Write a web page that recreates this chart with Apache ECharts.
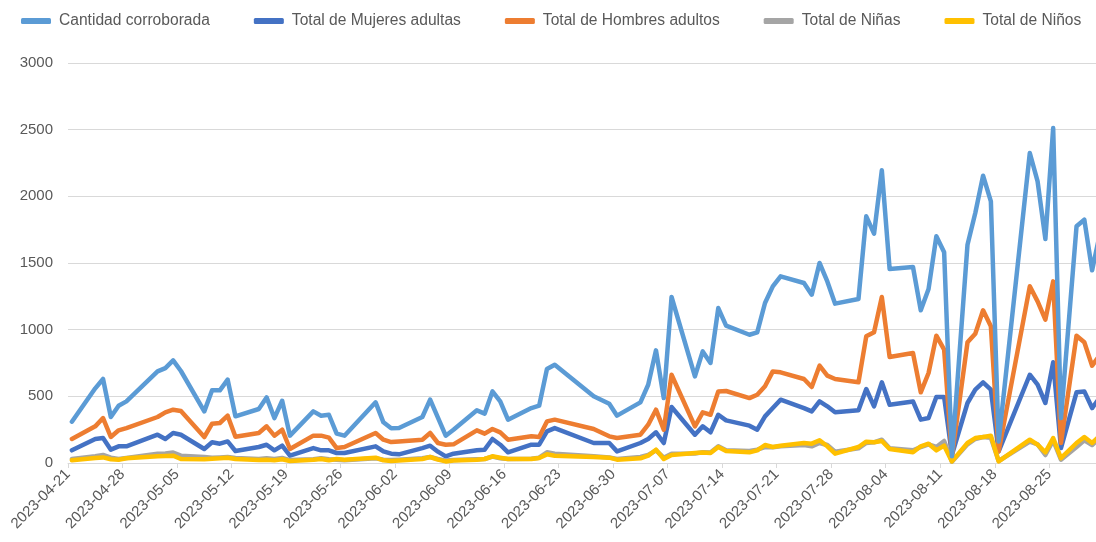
<!DOCTYPE html>
<html>
<head>
<meta charset="utf-8">
<script src="https://cdn.jsdelivr.net/npm/echarts@6/dist/echarts.min.js"></script>
<style>
	html, body { margin: 0; padding: 0; background: #fff; }
	#chart { width: 1096px; height: 542px; }
</style>
</head>
<body>
<div id="chart"></div>
<script>
	'use strict';

	var dates = ['2023-04-21', '2023-04-24', '2023-04-25', '2023-04-26', '2023-04-27', '2023-04-28',
		'2023-05-02', '2023-05-03', '2023-05-04', '2023-05-05', '2023-05-08', '2023-05-09', '2023-05-10',
		'2023-05-11', '2023-05-12', '2023-05-15', '2023-05-16', '2023-05-17', '2023-05-18', '2023-05-19',
		'2023-05-22', '2023-05-23', '2023-05-24', '2023-05-25', '2023-05-26', '2023-05-30', '2023-05-31',
		'2023-06-01', '2023-06-02', '2023-06-05', '2023-06-06', '2023-06-07', '2023-06-08', '2023-06-09',
		'2023-06-12', '2023-06-13', '2023-06-14', '2023-06-15', '2023-06-16', '2023-06-19', '2023-06-20',
		'2023-06-21', '2023-06-22', '2023-06-27', '2023-06-29', '2023-06-30', '2023-07-03', '2023-07-04',
		'2023-07-05', '2023-07-06', '2023-07-07', '2023-07-10', '2023-07-11', '2023-07-12', '2023-07-13',
		'2023-07-14', '2023-07-17', '2023-07-18', '2023-07-19', '2023-07-20', '2023-07-21', '2023-07-24',
		'2023-07-25', '2023-07-26', '2023-07-27', '2023-07-28', '2023-07-31', '2023-08-01', '2023-08-02',
		'2023-08-03', '2023-08-04', '2023-08-07', '2023-08-08', '2023-08-09', '2023-08-10', '2023-08-11',
		'2023-08-12', '2023-08-14', '2023-08-15', '2023-08-16', '2023-08-17', '2023-08-18', '2023-08-22',
		'2023-08-23', '2023-08-24', '2023-08-25', '2023-08-26', '2023-08-28', '2023-08-29', '2023-08-30',
		'2023-08-31'];

	var corroborada = [310, 560, 630, 345, 430, 462, 687, 712, 770, 690, 387, 545, 545, 625, 350,
		405, 492, 337, 467, 205, 387, 355, 362, 220, 205, 455, 305, 260, 262, 345, 475, 340, 205, 250,
		395, 370, 537, 462, 325, 412, 430, 705, 737, 500, 445, 355, 455, 587, 845, 487, 1245, 650, 837,
		750, 1162, 1030, 962, 980, 1200, 1325, 1400, 1350, 1262, 1500, 1362, 1195, 1230, 1850, 1720,
		2195, 1455, 1470, 1145, 1305, 1700, 1580, 50, 1637, 1875, 2155, 1962, 162, 2325, 2112, 1680,
		2512, 337, 1775, 1825, 1445, 1720];

	var mujeres = [95, 180, 187, 100, 125, 125, 212, 180, 225, 212, 105, 155, 145, 162, 90,
		120, 137, 95, 130, 55, 112, 95, 95, 75, 75, 125, 87, 70, 65, 112, 130, 85, 50, 70,
		95, 100, 180, 137, 80, 137, 137, 237, 262, 150, 150, 87, 150, 180, 230, 150, 420, 212, 275,
		230, 362, 320, 280, 250, 350, 412, 475, 412, 387, 462, 425, 380, 395, 555, 425,
		605, 437, 462, 325, 337, 495, 495, 62, 450, 550, 605, 550, 87, 662, 587, 450,
		755, 112, 530, 537, 412, 490];

	var hombres = [180, 275, 337, 195, 245, 262, 345, 380, 400, 390, 195, 295, 300, 355, 197,
		225, 275, 205, 250, 105, 205, 205, 190, 112, 120, 225, 175, 157, 162, 175, 225, 150, 137, 140,
		245, 220, 255, 230, 175, 200, 195, 312, 325, 255, 200, 187, 212, 287, 400, 250, 662, 275, 380,
		362, 537, 540, 487, 512, 575, 687, 680, 630, 570, 730, 655, 630, 605, 950, 980,
		1245, 795, 825, 530, 675, 955, 850, 50, 905, 970, 1145, 1025, 87, 1325, 1212, 1075,
		1362, 150, 955, 905, 730, 810];

	var ninas = [30, 50, 60, 40, 30, 38, 70, 72, 78, 55, 45, 40, 42, 45, 38,
		30, 35, 30, 38, 22, 28, 35, 28, 25, 20, 35, 25, 22, 25, 35, 45, 30, 18, 22,
		28, 30, 48, 35, 30, 32, 40, 80, 70, 50, 42, 30, 45, 60, 95, 40, 70, 72, 80,
		78, 125, 95, 90, 100, 120, 118, 125, 135, 125, 150, 135, 85, 110, 150, 155,
		175, 110, 95, 120, 140, 120, 165, 10, 140, 180, 195, 190, 15, 160, 140, 60,
		170, 25, 120, 170, 135, 190];

	var ninos = [20, 38, 42, 28, 25, 35, 50, 52, 55, 30, 28, 32, 35, 40, 30,
		22, 25, 20, 28, 15, 25, 30, 20, 30, 25, 40, 20, 15, 18, 30, 45, 25, 12, 18,
		25, 30, 50, 40, 30, 30, 38, 65, 55, 45, 40, 25, 35, 55, 100, 30, 60, 75, 78,
		75, 120, 90, 80, 95, 135, 120, 130, 150, 145, 170, 125, 70, 120, 160, 155,
		165, 105, 80, 125, 145, 95, 130, 12, 150, 187, 195, 205, 12, 175, 137, 80,
		187, 37, 150, 195, 150, 205];

	var yTicks = [0, 500, 1000, 1500, 2000, 2500, 3000];

	var names = ['Cantidad corroborada', 'Total de Mujeres adultas', 'Total de Hombres adultos', 'Total de Niñas', 'Total de Niños'];
	var colors = ['#5B9BD5', '#4472C4', '#ED7D31', '#A5A5A5', '#FFC000'];

	// day slots like the excel date axis: each point sits in the middle of its day
	var day0 = Date.UTC(2023, 3, 21);
	function dayPos(s) {
		var p = s.split('-');
		return (Date.UTC(+p[0], +p[1] - 1, +p[2]) - day0) / 86400000 + 0.5;
	}
	function pairs(vals) {
		return dates.map(function(d, i) { return [dayPos(d), vals[i]]; });
	}

	var fontFam = '"Liberation Sans", Arial, sans-serif';
	var txt = '#595959';

	var myChart = echarts.init(document.getElementById('chart'), null, { renderer: 'canvas' });
	var seriesVals = [corroborada, mujeres, hombres, ninas, ninos];
	var option = {
		animation: false,
		color: colors,
		textStyle: { fontFamily: fontFam },
		legend: {
			left: 16,
			top: 8,
			itemWidth: 30,
			itemHeight: 6,
			itemGap: 44,
			icon: 'roundRect',
			data: names,
			textStyle: { color: txt, fontSize: 15.6, fontFamily: fontFam, padding: [0, 0, 0, 3] }
		},
		grid: {
			left: 68,
			right: 0,
			top: 63,
			bottom: 79,
			containLabel: false,
			outerBoundsMode: 'none'
		},
		xAxis: {
			type: 'value',
			min: 0,
			max: 132,
			interval: 7,
			axisLine: { show: true, lineStyle: { color: '#D9D9D9', width: 1 } },
			axisTick: { show: true, length: 5, lineStyle: { color: '#D9D9D9' } },
			splitLine: { show: false },
			axisLabel: {
				rotate: 45,
				margin: 9,
				color: txt,
				fontSize: 15,
				fontFamily: fontFam,
				showMaxLabel: false,
				formatter: function(v) {
					return new Date(day0 + v * 86400000).toISOString().slice(0, 10);
				}
			}
		},
		yAxis: {
			type: 'value',
			min: yTicks[0],
			max: yTicks[yTicks.length - 1],
			interval: yTicks[1] - yTicks[0],
			axisLine: { show: false },
			axisTick: { show: false },
			splitLine: { lineStyle: { color: '#D9D9D9', width: 1 } },
			axisLabel: {
				color: txt,
				fontSize: 15,
				fontFamily: fontFam,
				margin: 15,
				formatter: function(v) { return String(v); }
			}
		},
		series: names.map(function(n, i) {
			return {
				name: n,
				type: 'line',
				data: pairs(seriesVals[i]),
				showSymbol: false,
				symbol: 'none',
				clip: true,
				z: i === 0 ? 7 : 2 + i,
				lineStyle: { width: 4.5, color: colors[i], join: 'round', cap: 'round' }
			};
		})
	};
	myChart.setOption(option);
	window.addEventListener('resize', function() {
		myChart.resize();
	});
</script>
</body>
</html>
